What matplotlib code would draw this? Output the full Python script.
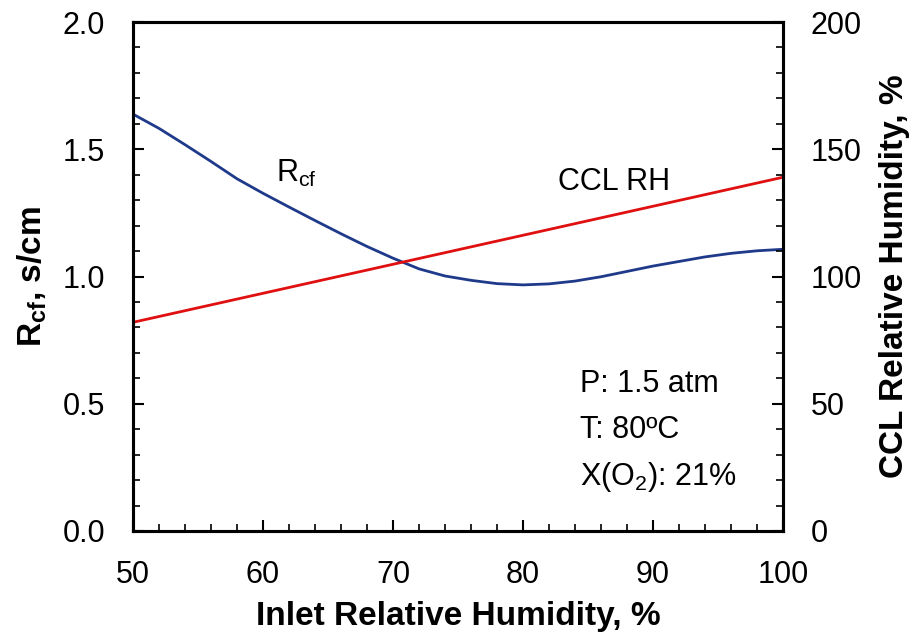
import matplotlib
matplotlib.use("Agg")
import matplotlib.pyplot as plt
from matplotlib.ticker import MultipleLocator, FormatStrFormatter

plt.rcParams['font.family'] = ['Liberation Sans', 'DejaVu Sans']
plt.rcParams['mathtext.fontset'] = 'custom'
plt.rcParams['mathtext.rm'] = 'Liberation Sans'
plt.rcParams['mathtext.bf'] = 'Liberation Sans:bold'
plt.rcParams['mathtext.it'] = 'Liberation Sans'

# Data
inlet_rh = [50, 52, 54, 56, 58, 60, 62, 64, 66, 68, 70, 72, 74, 76, 78, 80,
            82, 84, 86, 88, 90, 92, 94, 96, 98, 100]
rcf = [1.638, 1.582, 1.518, 1.452, 1.384, 1.327, 1.273, 1.220, 1.168, 1.118,
       1.072, 1.030, 1.002, 0.985, 0.972, 0.967, 0.971, 0.982, 0.999, 1.020,
       1.041, 1.059, 1.077, 1.091, 1.101, 1.107]
ccl_x = [50, 100]
ccl_rh = [82, 139]

fig = plt.figure(figsize=(9.17, 6.32), dpi=100)
ax = fig.add_axes([133/917, 1-531/632, (783-133)/917, (531-22)/632])
ax2 = ax.twinx()

ax.plot(inlet_rh, rcf, color='#1F3A8A', lw=2.0)
ax2.plot(ccl_x, ccl_rh, color='#E01010', lw=2.0)

ax.set_xlim(50, 100)
ax.set_ylim(0, 2.0)
ax2.set_ylim(0, 200)

ax.xaxis.set_major_locator(MultipleLocator(10))
ax.xaxis.set_minor_locator(MultipleLocator(2))
ax.yaxis.set_major_locator(MultipleLocator(0.5))
ax.yaxis.set_minor_locator(MultipleLocator(0.1))
ax2.yaxis.set_major_locator(MultipleLocator(50))
ax2.yaxis.set_minor_locator(MultipleLocator(10))
ax.yaxis.set_major_formatter(FormatStrFormatter('%.1f'))

for a in (ax, ax2):
    a.tick_params(which='major', direction='in', length=8, width=1.5, labelsize=22, pad=20)
    a.tick_params(which='minor', direction='in', length=5, width=1.2)
    for s in a.spines.values():
        s.set_linewidth(2.2)
ax.tick_params(axis='x', pad=21)

ax.set_xlabel('Inlet Relative Humidity, %', fontsize=24, fontweight='bold', labelpad=8)
ax.set_ylabel(r'$\mathbf{R_{cf}}$, s/cm', fontsize=24, fontweight='bold', labelpad=10)
ax2.set_ylabel('CCL Relative Humidity, %', fontsize=24, fontweight='bold', labelpad=12)

ax.text(61.0, 1.37, r'R$_{\mathrm{cf}}$', fontsize=22, ha='left', va='baseline')
ax.text(82.7, 1.34, 'CCL RH', fontsize=22, ha='left', va='baseline')
ax.text(84.4, 0.546, 'P: 1.5 atm', fontsize=22, ha='left', va='baseline')
ax.text(84.4, 0.365, 'T: 80ºC', fontsize=22, ha='left', va='baseline')
ax.text(84.4, 0.181, r'X(O$_{\mathrm{2}}$): 21%', fontsize=22, ha='left', va='baseline')

fig.savefig('out.png', dpi=100)
